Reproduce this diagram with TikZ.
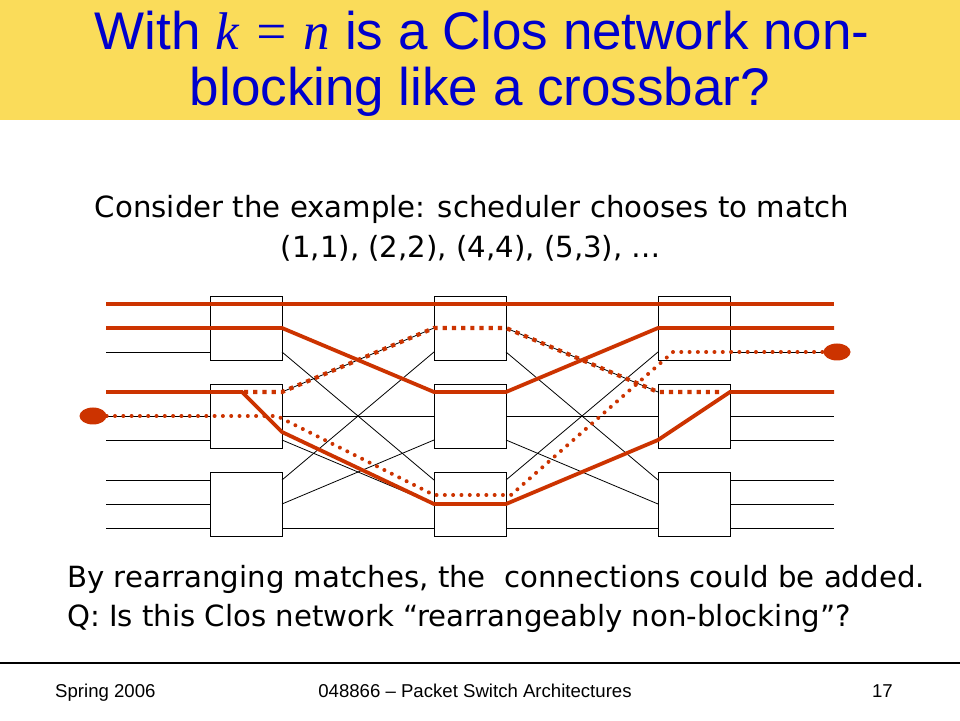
\documentclass[tikz,border=0pt]{standalone}
\usepackage{fontspec}
\setmainfont{Liberation Sans}
\newfontfamily\bodyfont{DejaVu Sans}
\newfontfamily\timesfont{Liberation Serif}
\usepackage{tikz}
\usetikzlibrary{positioning,calc,shapes.geometric}
\definecolor{titleyellow}{RGB}{250,220,90}
\definecolor{titleblue}{RGB}{0,0,204}
\definecolor{pathred}{RGB}{204,51,0}

\begin{document}
\begin{tikzpicture}[x=1pt,y=1pt,
  switch/.style={draw,line width=0.8pt,minimum width=72pt,minimum height=64pt,inner sep=0pt,outer sep=0pt},
  wire/.style={line width=0.8pt},
  route/.style={pathred,line width=3.8pt},
  reroute/.style={pathred,line width=4.2pt,dash pattern=on 4.2pt off 5pt},
  probe/.style={pathred,line width=4pt,line cap=round,dash pattern=on 0pt off 8.3pt},
  port/.style={ellipse,fill=pathred,minimum width=27pt,minimum height=17pt,inner sep=0pt},
  txt/.style={inner sep=0pt}]
\useasboundingbox (0,0) rectangle (960,720);
\fill[titleyellow] (0,600) rectangle (960,720);

\node[txt,anchor=base,text=titleblue,font=\fontsize{53}{60}\selectfont] (title1) at (482,670) {With {\timesfont\itshape k\;=\;n} is a Clos network non-};
\node[txt,anchor=base,text=titleblue,font=\fontsize{53}{60}\selectfont] (title2) at (480,614) {blocking like a crossbar?};

\node[txt,anchor=base,font=\bodyfont\fontsize{29.2}{34}\selectfont] (ask1) at (472,502) {Consider the example: scheduler chooses to match};
\node[txt,anchor=base,font=\bodyfont\fontsize{29.2}{34}\selectfont] (ask2) at (471,462) {(1,1), (2,2), (4,4), (5,3), …};

\node[switch] (a1) at (246,392) {};
\node[switch,below=24pt of a1] (a2) {};
\node[switch,below=24pt of a2] (a3) {};
\node[switch,right=152pt of a1] (b1) {};
\node[switch,below=24pt of b1] (b2) {};
\node[switch,below=24pt of b2] (b3) {};
\node[switch,right=152pt of b1] (c1) {};
\node[switch,below=24pt of c1] (c2) {};
\node[switch,below=24pt of c2] (c3) {};

\foreach \g in {1,2,3} {
  \foreach \dy in {24,0,-24} {
    \draw[wire] ($(a\g.west)+(-104,\dy)$) -- ($(a\g.west)+(0,\dy)$);
    \draw[wire] ($(c\g.east)+(0,\dy)$) -- ($(c\g.east)+(104,\dy)$);
  }
}
\foreach \i in {1,2,3} {
  \foreach \j in {1,2,3} {
    \draw[wire] ($(a\i.east)+(0,48-24*\j)$) -- ($(b\j.west)+(0,48-24*\i)$);
    \draw[wire] ($(b\i.east)+(0,48-24*\j)$) -- ($(c\j.west)+(0,48-24*\i)$);
  }
}

\node[port] (src) at (93,304) {};
\node[port] (dst) at (837,368) {};

\draw[route] ($(a1.west)+(-104,24)$) -- ($(c1.east)+(104,24)$);
\draw[route] ($(a1.west)+(-104,0)$) -- (a1.east) -- ($(b2.west)+(0,24)$) -- ($(b2.east)+(0,24)$) -- (c1.west) -- ($(c1.east)+(104,0)$);
\draw[route] ($(a2.west)+(-104,24)$) -- ($(a2.west)+(32,24)$) -- ($(a2.east)+(0,-16)$) -- (b3.west) -- (b3.east) -- ($(c2.west)+(0,-24)$) -- ($(c2.east)+(0,24)$) -- ($(c2.east)+(104,24)$);
\draw[reroute] ($(a2.west)+(34,24)$) -- ($(a2.east)+(0,24)$) -- (b1.west) -- (b1.east) -- ($(c2.west)+(0,24)$) -- ($(c2.east)+(-6,24)$);
\draw[probe] (src) -- ($(a2.east)+(-5,0)$) -- ($(b3.west)+(0,9)$) -- ($(b3.east)+(5,9)$) -- ($(c1.west)+(15,-24)$) -- (dst);

\node[txt,anchor=base west,font=\bodyfont\fontsize{29.2}{34}\selectfont] (note1) at (67,132) {By rearranging matches, the~ connections could be added.};
\node[txt,anchor=base west,font=\bodyfont\fontsize{29.2}{34}\selectfont] (note2) at (67,94) {Q: Is this Clos network “rearrangeably non-blocking”?};

\draw[line width=1.5pt] (0,57) -- (960,57);
\node[txt,anchor=base west,font=\fontsize{18.6}{22}\selectfont] (date) at (55,23) {Spring 2006};
\node[txt,anchor=base,font=\fontsize{18.6}{22}\selectfont] (course) at (475,23) {048866 – Packet Switch Architectures};
\node[txt,anchor=base east,font=\fontsize{18.6}{22}\selectfont] (page) at (893,23) {17};
\end{tikzpicture}
\end{document}
